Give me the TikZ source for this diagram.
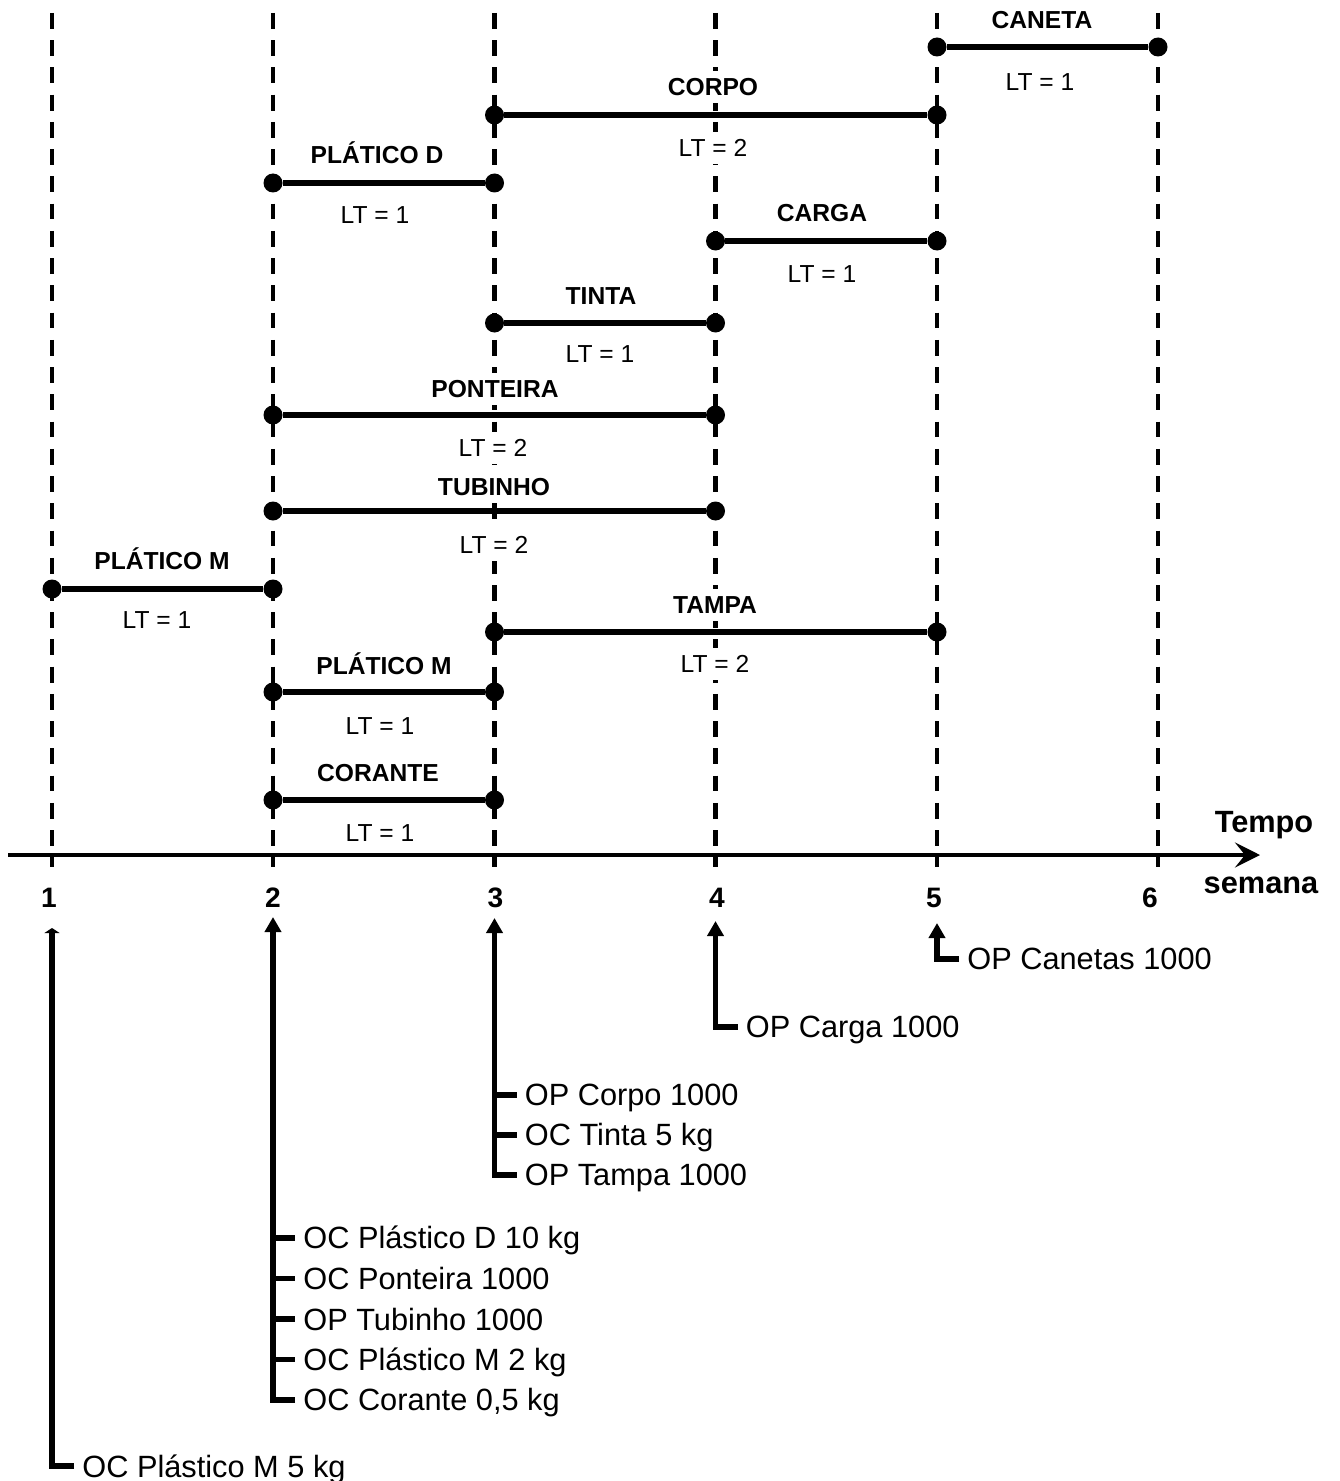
\documentclass[tikz,border=0pt]{standalone}
\usepackage{fontspec}
\setmainfont{Liberation Sans}
\usetikzlibrary{arrows.meta}

\tikzset{
  grade/.style={line width=2.3pt, dash pattern=on 9pt off 6.5pt},
  barra/.style={line width=3.2pt},
  ponto/.style={circle, fill=black, inner sep=0pt, minimum size=0.38cm},
  titulo/.style={font=\fontsize{14}{16}\selectfont\bfseries, text height=10pt, text depth=0pt, inner xsep=1pt, inner ysep=4pt, fill=white},
  prazo/.style={font=\fontsize{14}{16}\selectfont, text height=10pt, text depth=0pt, inner xsep=1pt, inner ysep=4pt, fill=white},
  numero/.style={font=\fontsize{16}{18}\selectfont\bfseries, text height=11.5pt, text depth=0pt, inner sep=0pt},
  ordem/.style={font=\fontsize{17.5}{20}\selectfont, anchor=west, text height=12.5pt, text depth=0pt, inner ysep=0pt, inner xsep=0.16cm},
  haste/.style={line width=3pt},
  seta/.style={line width=3pt, -{Triangle[length=0.3cm,width=0.32cm]}},
}

\begin{document}
\begin{tikzpicture}
        \useasboundingbox (0,0) rectangle (26.8,-29.62);

         % semanas
        \coordinate (s1t) at (1.04,-0.26);  \coordinate (s1b) at (1.04,-17.34);
        \coordinate (s2t) at (5.46,-0.26);  \coordinate (s2b) at (5.46,-17.34);
        \coordinate (s3t) at (9.89,-0.26);  \coordinate (s3b) at (9.89,-17.34);
        \coordinate (s4t) at (14.31,-0.26); \coordinate (s4b) at (14.31,-17.34);
        \coordinate (s5t) at (18.74,-0.26); \coordinate (s5b) at (18.74,-17.34);
        \coordinate (s6t) at (23.16,-0.26); \coordinate (s6b) at (23.16,-17.34);
        \draw[grade] (s1t) -- (s1b);
        \draw[grade] (s2t) -- (s2b);
        \draw[grade] (s3t) -- (s3b);
        \draw[grade] (s4t) -- (s4b);
        \draw[grade] (s5t) -- (s5b);
        \draw[grade] (s6t) -- (s6b);

         % eixo do tempo
        \coordinate (e0) at (0.16,-17.1);
        \coordinate (e1) at (25.2,-17.1);
        \draw[line width=2.2pt, -{Stealth[length=0.5cm,width=0.5cm,inset=0.2cm]}] (e0) -- (e1);
        \node[anchor=base, font=\fontsize{17.5}{20}\selectfont\bfseries] (tempo) at (25.28,-16.64) {Tempo};
        \node[anchor=base, font=\fontsize{17.5}{20}\selectfont\bfseries] (semana) at (25.22,-17.86) {semana};
        \node[numero] (n1) at (0.98,-17.94) {1};
        \node[numero] (n2) at (5.46,-17.94) {2};
        \node[numero] (n3) at (9.91,-17.94) {3};
        \node[numero] (n4) at (14.34,-17.94) {4};
        \node[numero] (n5) at (18.68,-17.94) {5};
        \node[numero] (n6) at (23.0,-17.94) {6};

         % caneta
        \node[ponto] (canetaA) at (18.74,-0.94) {};
        \node[ponto] (canetaB) at (23.16,-0.94) {};
        \draw[barra] (canetaA) -- (canetaB);
        \node[titulo] (canetaT) at (20.84,-0.40) {CANETA};
        \node[prazo] (canetaL) at (20.80,-1.64) {LT = 1};

         % corpo
        \node[ponto] (corpoA) at (9.89,-2.30) {};
        \node[ponto] (corpoB) at (18.74,-2.30) {};
        \draw[barra] (corpoA) -- (corpoB);
        \node[titulo] (corpoT) at (14.26,-1.74) {CORPO};
        \node[prazo] (corpoL) at (14.26,-2.96) {LT = 2};

         % plastico D
        \node[ponto] (plasDA) at (5.46,-3.66) {};
        \node[ponto] (plasDB) at (9.89,-3.66) {};
        \draw[barra] (plasDA) -- (plasDB);
        \node[titulo] (plasDT) at (7.54,-3.10) {PLÁTICO D};
        \node[prazo] (plasDL) at (7.50,-4.30) {LT = 1};

         % carga
        \node[ponto] (cargaA) at (14.31,-4.82) {};
        \node[ponto] (cargaB) at (18.74,-4.82) {};
        \draw[barra] (cargaA) -- (cargaB);
        \node[titulo] (cargaT) at (16.44,-4.26) {CARGA};
        \node[prazo] (cargaL) at (16.44,-5.48) {LT = 1};

         % tinta
        \node[ponto] (tintaA) at (9.89,-6.46) {};
        \node[ponto] (tintaB) at (14.31,-6.46) {};
        \draw[barra] (tintaA) -- (tintaB);
        \node[titulo] (tintaT) at (12.02,-5.92) {TINTA};
        \node[prazo] (tintaL) at (12.00,-7.08) {LT = 1};

         % ponteira
        \node[ponto] (pontA) at (5.46,-8.30) {};
        \node[ponto] (pontB) at (14.31,-8.30) {};
        \draw[barra] (pontA) -- (pontB);
        \node[titulo] (pontT) at (9.90,-7.78) {PONTEIRA};
        \node[prazo] (pontL) at (9.86,-8.96) {LT = 2};

         % tubinho
        \node[ponto] (tubA) at (5.46,-10.22) {};
        \node[ponto] (tubB) at (14.31,-10.22) {};
        \draw[barra] (tubA) -- (tubB);
        \node[titulo] (tubT) at (9.88,-9.74) {TUBINHO};
        \node[prazo] (tubL) at (9.88,-10.90) {LT = 2};

         % plastico M (semana 1)
        \node[ponto] (plasMA) at (1.04,-11.78) {};
        \node[ponto] (plasMB) at (5.46,-11.78) {};
        \draw[barra] (plasMA) -- (plasMB);
        \node[titulo] (plasMT) at (3.24,-11.22) {PLÁTICO M};
        \node[prazo] (plasML) at (3.14,-12.40) {LT = 1};

         % tampa
        \node[ponto] (tampaA) at (9.89,-12.64) {};
        \node[ponto] (tampaB) at (18.74,-12.64) {};
        \draw[barra] (tampaA) -- (tampaB);
        \node[titulo] (tampaT) at (14.30,-12.10) {TAMPA};
        \node[prazo] (tampaL) at (14.30,-13.28) {LT = 2};

         % plastico M (semana 2)
        \node[ponto] (plasNA) at (5.46,-13.84) {};
        \node[ponto] (plasNB) at (9.89,-13.84) {};
        \draw[barra] (plasNA) -- (plasNB);
        \node[titulo] (plasNT) at (7.68,-13.32) {PLÁTICO M};
        \node[prazo] (plasNL) at (7.60,-14.52) {LT = 1};

         % corante
        \node[ponto] (coraA) at (5.46,-16.00) {};
        \node[ponto] (coraB) at (9.89,-16.00) {};
        \draw[barra] (coraA) -- (coraB);
        \node[titulo] (coraT) at (7.56,-15.46) {CORANTE};
        \node[prazo] (coraL) at (7.60,-16.66) {LT = 1};

         % ordens da semana 1
        \coordinate (p1) at (1.04,-18.56);
        \node[ordem] (o11) at (1.48,-29.32) {OC Plástico M 5 kg};
        \draw[line width=3pt, -{Triangle[length=0.1cm,width=0.3cm]}] (o11.west) -| (p1);

         % ordens da semana 2
        \coordinate (p2) at (5.46,-18.34);
        \node[ordem] (o21) at (5.90,-24.76) {OC Plástico D 10 kg};
        \node[ordem] (o22) at (5.90,-25.57) {OC Ponteira 1000};
        \node[ordem] (o23) at (5.90,-26.38) {OP Tubinho 1000};
        \node[ordem] (o24) at (5.90,-27.19) {OC Plástico M 2 kg};
        \node[ordem] (o25) at (5.90,-28.00) {OC Corante 0,5 kg};
        \draw[seta] (o25.west) -| (p2);
        \draw[haste] (5.46,-24.76) -- (o21.west);
        \draw[haste] (5.46,-25.57) -- (o22.west);
        \draw[haste] (5.46,-26.38) -- (o23.west);
        \draw[haste] (5.46,-27.19) -- (o24.west);

         % ordens da semana 3
        \coordinate (p3) at (9.89,-18.36);
        \node[ordem] (o31) at (10.33,-21.90) {OP Corpo 1000};
        \node[ordem] (o32) at (10.33,-22.70) {OC Tinta 5 kg};
        \node[ordem] (o33) at (10.33,-23.50) {OP Tampa 1000};
        \draw[seta] (o33.west) -| (p3);
        \draw[haste] (9.89,-21.90) -- (o31.west);
        \draw[haste] (9.89,-22.70) -- (o32.west);

         % ordens da semana 4
        \coordinate (p4) at (14.31,-18.42);
        \node[ordem] (o41) at (14.75,-20.54) {OP Carga 1000};
        \draw[seta] (o41.west) -| (p4);

         % ordens da semana 5
        \coordinate (p5) at (18.74,-18.46);
        \node[ordem] (o51) at (19.18,-19.18) {OP Canetas 1000};
        \draw[seta] (o51.west) -| (p5);
\end{tikzpicture}
\end{document}
